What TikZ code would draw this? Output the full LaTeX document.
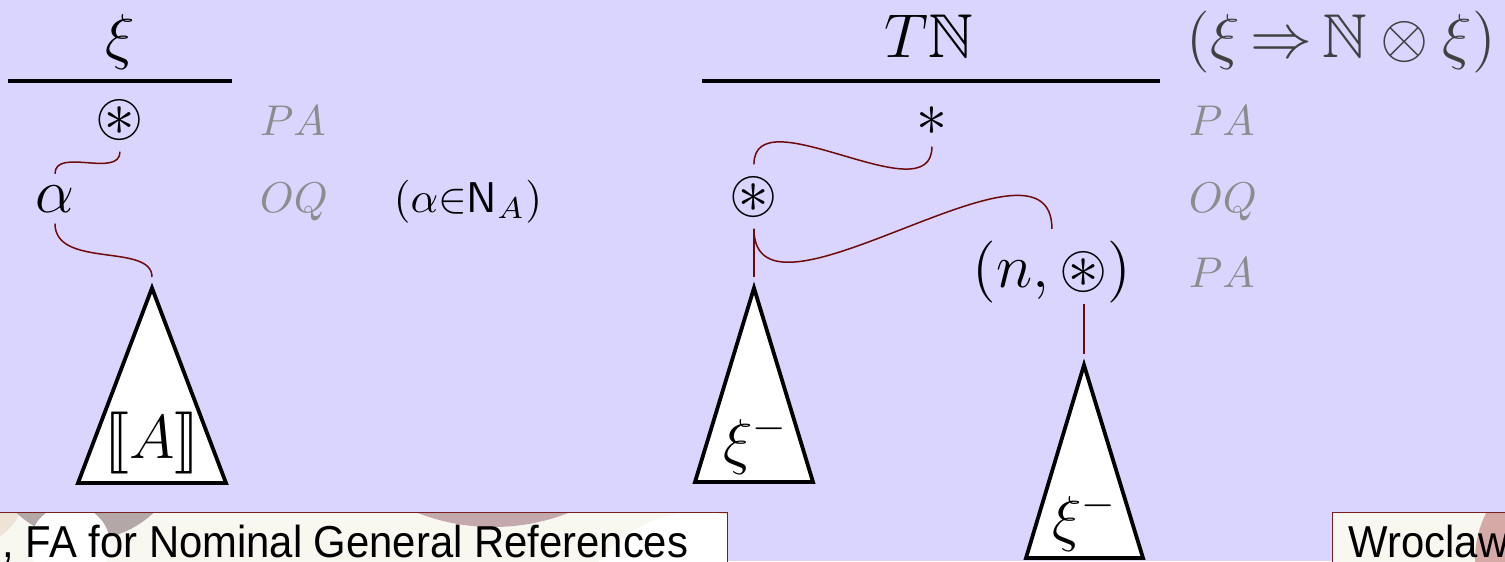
\documentclass[tikz,border=0pt]{standalone}
\usepackage{amssymb}
\usepackage{stmaryrd}
\usepackage{fontspec}
\newfontfamily\footfont{Liberation Sans}
\usetikzlibrary{positioning,calc}
\definecolor{slidebg}{HTML}{D9D5FE}
\definecolor{linkred}{HTML}{6E0A0A}
\definecolor{footred}{HTML}{7A1F1F}
\definecolor{footcream}{HTML}{F8F7F0}
\definecolor{blobgrey}{HTML}{B4A7A8}
\definecolor{blobmauve}{HTML}{C3A9AB}
\definecolor{blobpink}{HTML}{D5AAA6}
\definecolor{blobtan}{HTML}{EEE3D4}

\begin{document}
\begin{tikzpicture}[x=0.23256pt, y=-0.23256pt, scale=4.3,
    every node/.append style={transform shape},
    move/.style={font=\Large, inner sep=2.5pt, anchor=base},
    lab/.style={text=black!45, inner sep=0pt, anchor=base west},
    link/.style={draw=linkred, line width=1.5pt},
    tree/.style={draw, fill=white, line width=3.8pt},
    bar/.style={line width=3.8pt},
    foot/.style={draw=footred, line width=0.8pt},
    foottext/.style={inner sep=0pt, font=\footfont\fontsize{10.4}{12}\selectfont, xscale=0.935}]
  \useasboundingbox (0,0) rectangle (1505,561);
  \fill[slidebg] (0,0) rectangle (1505,561);
  % footer boxes of the slide
  \begin{scope}
    \clip (-10,512) rectangle (727,600);
    \fill[footcream] (-10,512) rectangle (727,600);
    \fill[blobtan] (-30,490) circle (55);
    \fill[blobgrey] (85,440) circle (100);
    \fill[white] (70,545) circle (40);
    \fill[blobmauve] (493,319) circle (208);
    \fill[blobtan] (760,470) circle (80);
    \fill[white] (700,640) circle (128);
  \end{scope}
  \draw[foot] (-10,512) rectangle (727,600);
  \begin{scope}
    \clip (1332,512) rectangle (1520,600);
    \fill[footcream] (1332,512) rectangle (1520,600);
    \fill[blobpink] (1580,560) circle (105);
  \end{scope}
  \draw[foot] (1332,512) rectangle (1520,600);
  \node[foottext, anchor=base east] (title) at (689,557) {, FA for Nominal General References};
  \node[foottext, anchor=base west] (place) at (1348,557) {Wroclaw};

  % left tree
  \node[move] (xiTop) at (120,57) {$\xi$};
  \draw[bar] (8,81) -- (232,81);
  \node[move] (rootA) at (120,135) {$\circledast$};
  \node[move] (alpha) at (55,212) {$\alpha$};
  \node[lab] (paA) at (259,135) {$PA$};
  \node[lab] (oqA) at (259,212) {$OQ$};
  \node[anchor=base west, inner sep=0pt] (side) at (393,212) {$(\alpha{\in}\mathsf{N}_A)$};
  \draw[tree] (152,288) coordinate (topA) -- (226,483) -- (78,483) -- cycle;
  \node[move] (semA) at (152,458) {$\llbracket A\rrbracket$};
  \draw[link] (rootA.south) to[out=-90,in=90] (alpha.north);
  \draw[link, shorten >=11pt] (alpha.south) to[out=-90,in=90] (topA);

  % right tree
  \node[move] (tn) at (929,57) {$T\mathbb{N}$};
  \draw[bar] (702,81) -- (1160,81);
  \node[lab, text=black!75, font=\Large] (arrow) at (1186,57)
    {$(\xi\mathrel{\mkern-2mu\Rightarrow\mkern-2mu}\mathbb{N}\otimes\xi)$};
  \node[move] (unit) at (932,135) {$*$};
  \node[move] (ask) at (754,212) {$\circledast$};
  \node[move] (pair) at (1052,287) {$(n,\circledast)$};
  \node[lab] (paB) at (1188,135) {$PA$};
  \node[lab] (oqB) at (1188,212) {$OQ$};
  \node[lab] (paC) at (1188,287) {$PA$};
  \draw[tree] (754,288) coordinate (top1) -- (813,482) -- (695,482) -- cycle;
  \node[move] (negA) at (756,462) {$\xi^-$};
  \draw[tree] (1084,365) coordinate (top2) -- (1143,558) -- (1026,558) -- cycle;
  \node[move] (negB) at (1085,539) {$\xi^-$};
  \draw[link] (ask.north) to[out=90,in=-90] (unit.south);
  \draw[link] (ask.south) to[out=-90,in=90] (pair.north);
  \draw[link, shorten >=11pt] (ask.south) -- (top1);
  \draw[link, shorten >=11pt] ($(pair.south -| top2)+(0,-10)$) -- (top2);
\end{tikzpicture}
\end{document}
